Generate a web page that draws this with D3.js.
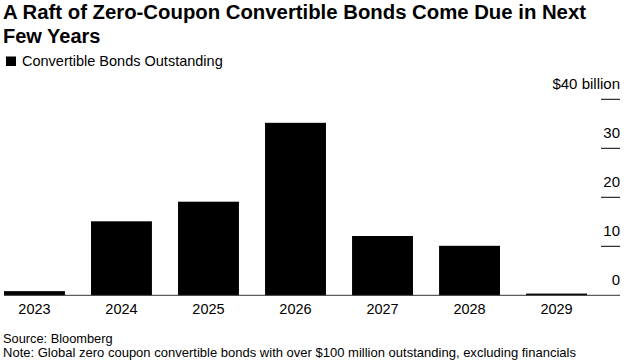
<!DOCTYPE html>
<html>
<head>
<meta charset="utf-8">
<script src="https://cdn.jsdelivr.net/npm/d3@7"></script>
<style>
  body { margin: 0; background: #fff; }
  text { font-family: "Liberation Sans", Arial, sans-serif; }
</style>
</head>
<body>
<div id="chart"></div>
<script>
// Chart data
const years = ['2023', '2024', '2025', '2026', '2027', '2028', '2029'];
const outstanding = [0.85, 15.1, 19.1, 35.2, 12.1, 10.1, 0.35];
const yTicks = [0, 10, 20, 30, 40];

const width = 627, height = 362;

const svg = d3.select('#chart')
    .append('svg')
    .attr('width', width)
    .attr('height', height);

// Title (two lines)
svg.append('text')
    .attr('x', 3).attr('y', 18.5)
    .attr('font-size', '20px')
    .attr('font-weight', 'bold')
    .attr('fill', '#000')
    .attr('textLength', 583)
    .attr('lengthAdjust', 'spacingAndGlyphs')
    .text('A Raft of Zero-Coupon Convertible Bonds Come Due in Next');
svg.append('text')
    .attr('x', 3).attr('y', 42.8)
    .attr('font-size', '20px')
    .attr('font-weight', 'bold')
    .attr('fill', '#000')
    .text('Few Years');

// Legend
svg.append('rect')
    .attr('x', 6).attr('y', 56.5).attr('width', 10).attr('height', 9.5)
    .attr('fill', '#000');
svg.append('text')
    .attr('x', 22).attr('y', 65.5)
    .attr('font-size', '14.5px')
    .attr('fill', '#000')
    .text('Convertible Bonds Outstanding');

// Scales
const xScale = d3.scaleBand()
    .domain(years)
    .range([4, 587])
    .paddingInner(0.3)
    .paddingOuter(0);

const yScale = d3.scaleLinear()
    .domain([0, 40])
    .range([295.3, 99.3]);

// Bars
svg.append('g')
    .selectAll('rect')
    .data(outstanding)
    .enter()
    .append('rect')
    .attr('x', (d, i) => xScale(years[i]))
    .attr('y', d => yScale(d))
    .attr('width', xScale.bandwidth())
    .attr('height', d => yScale(0) - yScale(d))
    .attr('fill', '#000');

// Right axis: short tick lines with labels above
const axisRight = 620;
const yAxis = svg.append('g');
yAxis.selectAll('line')
    .data(yTicks.filter(d => d > 0))
    .enter()
    .append('line')
    .attr('x1', 601).attr('x2', axisRight)
    .attr('y1', d => yScale(d)).attr('y2', d => yScale(d))
    .attr('stroke', '#000')
    .attr('stroke-width', 1);
yAxis.selectAll('text')
    .data(yTicks)
    .enter()
    .append('text')
    .attr('x', axisRight)
    .attr('y', d => yScale(d) - 10)
    .attr('text-anchor', 'end')
    .attr('font-size', '15px')
    .attr('fill', '#000')
    .text(d => d === 40 ? '$40 billion' : d);

// Baseline
svg.append('line')
    .attr('x1', 4).attr('x2', axisRight)
    .attr('y1', yScale(0)).attr('y2', yScale(0))
    .attr('stroke', '#333')
    .attr('stroke-width', 1);

// X axis labels
svg.append('g')
    .selectAll('text')
    .data(years)
    .enter()
    .append('text')
    .attr('x', d => xScale(d) + xScale.bandwidth() / 2)
    .attr('y', 314.3)
    .attr('text-anchor', 'middle')
    .attr('font-size', '14.5px')
    .attr('fill', '#000')
    .text(d => d);

// Footer
svg.append('text')
    .attr('x', 3).attr('y', 343)
    .attr('font-size', '12.8px')
    .attr('fill', '#000')
    .text('Source: Bloomberg');
svg.append('text')
    .attr('x', 3).attr('y', 356.5)
    .attr('font-size', '12.8px')
    .attr('fill', '#000')
    .attr('textLength', 573)
    .attr('lengthAdjust', 'spacingAndGlyphs')
    .text('Note: Global zero coupon convertible bonds with over $100 million outstanding, excluding financials');
</script>
</body>
</html>
